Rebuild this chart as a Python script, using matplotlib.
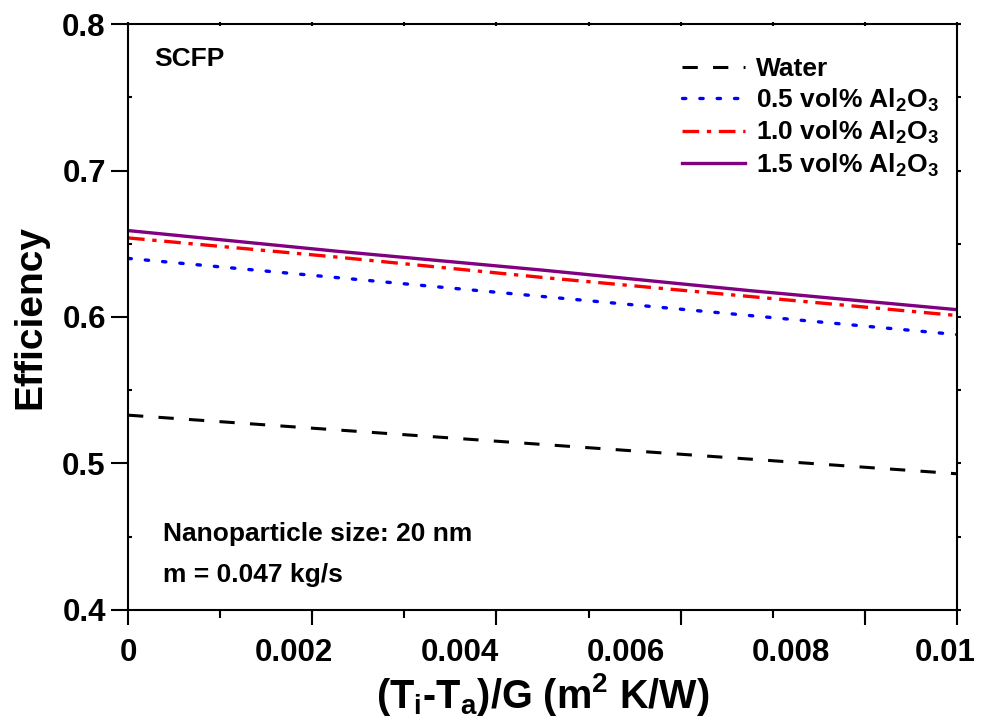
import numpy as np
import matplotlib
matplotlib.use("Agg")
import matplotlib.pyplot as plt
import matplotlib.transforms as mtrans
from matplotlib.ticker import FixedLocator, NullFormatter

# ---------------------------------------------------------------------------
# data
# ---------------------------------------------------------------------------
x_vals = [0.0, 0.0025, 0.005, 0.0075, 0.01]

eff_water = [0.533, 0.523, 0.513, 0.503, 0.493]
eff_05 = [0.640, 0.627, 0.614, 0.601, 0.588]
eff_10 = [0.654, 0.641, 0.627, 0.614, 0.601]
eff_15 = [0.659, 0.645, 0.632, 0.618, 0.605]

labels = ["Water",
          "0.5 vol% Al$_2$O$_3$",
          "1.0 vol% Al$_2$O$_3$",
          "1.5 vol% Al$_2$O$_3$"]

x_ticks = [0, 0.002, 0.004, 0.006, 0.008, 0.01]
x_ticklabels = ["0", "0.002", "0.004", "0.006", "0.008", "0.01"]
y_ticks = [0.4, 0.5, 0.6, 0.7, 0.8]

# ---------------------------------------------------------------------------

plt.rcParams['font.family'] = ['Liberation Sans', 'DejaVu Sans']
plt.rcParams['font.weight'] = 'bold'
plt.rcParams['mathtext.fontset'] = 'custom'
plt.rcParams['mathtext.rm'] = 'Liberation Sans:bold'
plt.rcParams['mathtext.it'] = 'Liberation Sans:bold'
plt.rcParams['mathtext.bf'] = 'Liberation Sans:bold'

fig = plt.figure(figsize=(9.81, 7.23), dpi=100)
ax = fig.add_axes([0.1305, 0.1563, 0.845, 0.8105])

ax.plot(x_vals, eff_water, color='black', lw=2.2, ls=(0, (5, 5)), label=labels[0])
ax.plot(x_vals, eff_05, color='#0000ff', lw=2.4, ls=(0, (1, 4.2)),
        dash_capstyle='round', label=labels[1])
ax.plot(x_vals, eff_10, color='#ff0000', lw=2.4, ls=(0, (5, 2.3, 1.3, 2.3)), label=labels[2])
ax.plot(x_vals, eff_15, color='#800080', lw=2.4, label=labels[3])

ax.set_xlim(0, 0.01)
ax.set_ylim(0.4, 0.8)

for s in ax.spines.values():
    s.set_linewidth(1.5)

# x axis: labels at round values, tick marks on a 1/9 grid (as in the original)
grid9 = [k * 0.01 / 9 for k in range(10)]
ax.set_xticks(x_ticks)
ax.set_xticklabels(x_ticklabels, fontsize=22.5, fontweight='bold')
ax.tick_params(axis='x', which='major', length=0, pad=20)
ax.xaxis.set_minor_locator(FixedLocator(grid9))
ax.tick_params(axis='x', which='minor', direction='out', length=6, width=1.5)

# last label sits left of its tick so it stays inside the figure
last = ax.get_xticklabels()[-1]
last.set_transform(last.get_transform() +
                   mtrans.ScaledTranslation(-12 / 100, 0, fig.dpi_scale_trans))

sec = ax.secondary_xaxis('bottom')
sec.set_xticks(grid9[::2] + [0.01])
sec.xaxis.set_major_formatter(NullFormatter())
sec.tick_params(length=11, width=1.5, direction='out')
sec.spines['bottom'].set_visible(False)

tax = ax.secondary_xaxis('top')
tax.set_xticks(grid9)
tax.xaxis.set_major_formatter(NullFormatter())
tax.tick_params(length=2.5, width=1.5, direction='inout')
tax.spines['top'].set_visible(False)

ax.set_yticks(y_ticks)
ax.set_yticklabels([f"{v:.1f}" for v in y_ticks], fontsize=22.5, fontweight='bold')
ax.tick_params(axis='y', which='major', direction='out', length=12, width=1.5, pad=4)
ax.yaxis.set_minor_locator(FixedLocator([0.45, 0.55, 0.65, 0.75]))
ax.tick_params(axis='y', which='minor', direction='in', length=3, width=1.5)

# short ticks on the right side
rax = ax.secondary_yaxis('right')
rax.set_yticks([0.4, 0.45, 0.5, 0.55, 0.6, 0.65, 0.7, 0.75, 0.8])
rax.yaxis.set_major_formatter(NullFormatter())
rax.tick_params(length=3, width=1.5, direction='out')
rax.spines['right'].set_visible(False)

ax.set_xlabel("(T$_i$-T$_a$)/G (m$^2$ K/W)", fontsize=28.5, fontweight='bold', labelpad=2)
ax.set_ylabel("Efficiency", fontsize=28, fontweight='bold', labelpad=10)

ax.text(0.032, 0.928, "SCFP", transform=ax.transAxes, fontsize=19, fontweight='bold')
ax.text(0.042, 0.118, "Nanoparticle size: 20 nm", transform=ax.transAxes,
        fontsize=19, fontweight='bold')
ax.text(0.042, 0.048, "m = 0.047 kg/s", transform=ax.transAxes,
        fontsize=19, fontweight='bold')

ax.legend(loc='upper right', bbox_to_anchor=(1.0, 0.975), frameon=False,
          handlelength=2.4, handletextpad=0.4, labelspacing=0.2,
          borderaxespad=0.3, prop={'weight': 'bold', 'size': 19})

fig.savefig("out.png", dpi=100)
